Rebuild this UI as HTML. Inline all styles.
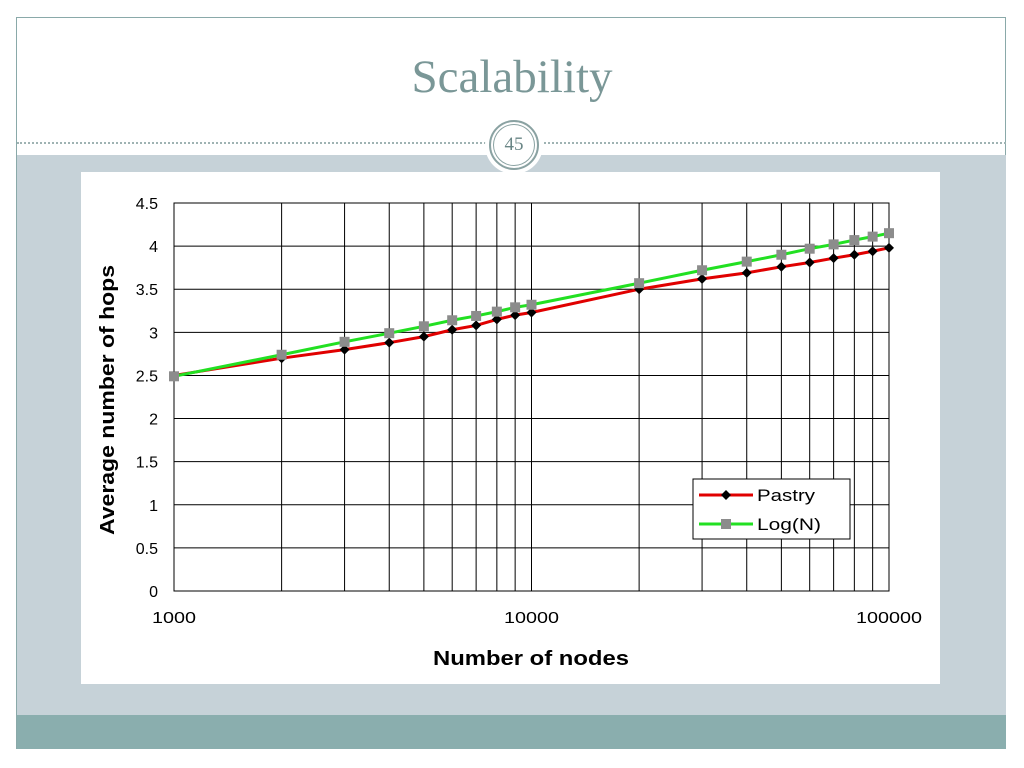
<!DOCTYPE html>
<html><head><meta charset="utf-8"><style>
body{margin:0;width:1024px;height:768px;background:#fff;position:relative;overflow:hidden;font-family:"Liberation Sans",sans-serif}
#frame{position:absolute;left:16px;top:17px;width:990px;height:732px;border:1px solid #8aa9a9;box-sizing:border-box}
#title{position:absolute;left:0;width:1024px;top:50px;text-align:center;font-family:"Liberation Serif",serif;font-size:47px;color:#7a9797}
#dash{position:absolute;left:17px;width:989px;top:142px;border-top:2px dotted #9fb3b3}
#gray{position:absolute;left:17px;top:155px;width:989px;height:560px;background:#c6d2d8}
#band{position:absolute;left:17px;top:715px;width:989px;height:34px;background:#8aaeae}
#circ{position:absolute;left:485px;top:116px;width:58px;height:58px;border-radius:50%;background:#fff}
#circ2{position:absolute;left:489px;top:120px;width:46px;height:46px;border-radius:50%;border:2px solid #8aa2a2;box-shadow:inset 0 0 0 2px #fff,inset 0 0 0 3px #8aa2a2;text-align:center;line-height:46px;font-family:"Liberation Serif",serif;font-size:19px;color:#6a8686}
#chart{position:absolute;left:81px;top:172px;width:859px;height:512px;background:#fff}
</style></head><body>
<div id="frame"></div>
<div id="title">Scalability</div>
<div id="dash"></div>
<div id="gray"></div>
<div id="band"></div>
<div id="circ"></div>
<div id="circ2">45</div>
<svg id="chart" width="859" height="512" viewBox="81 172 859 512"></svg>
<script>
const nodes=[1000,2000,3000,4000,5000,6000,7000,8000,9000,10000,20000,30000,40000,50000,60000,70000,80000,90000,100000];
const pastry=[2.5,2.7,2.8,2.88,2.95,3.03,3.08,3.15,3.2,3.23,3.5,3.62,3.69,3.76,3.81,3.86,3.9,3.94,3.98];
const logN=[2.49,2.74,2.89,2.99,3.07,3.14,3.19,3.24,3.29,3.32,3.57,3.72,3.82,3.9,3.97,4.02,4.07,4.11,4.15];
const yTicks=["0","0.5","1","1.5","2","2.5","3","3.5","4","4.5"];
const xTicks=["1000","10000","100000"];
const NS="http://www.w3.org/2000/svg",svg=document.getElementById('chart');
const X0=174,X1=889,Y0=591,Y1=203;
const xs=v=>X0+(Math.log10(v)-3)/2*(X1-X0);
const ys=v=>Y0-v/4.5*(Y0-Y1);
function mk(t,a,txt){const e=document.createElementNS(NS,t);for(const k in a)e.setAttribute(k,a[k]);if(txt!=null)e.textContent=txt;svg.appendChild(e);return e;}
yTicks.forEach(t=>{const y=ys(+t);
const l=mk('line',{x1:X0,x2:X1,y1:y,y2:y,stroke:'#000','stroke-width':1});


const tx=mk('text',{x:X0-16,y:y+6,'text-anchor':'end','font-size':16},t);

});
nodes.forEach(n=>{const x=xs(n);
const l=mk('line',{x1:x,x2:x,y1:Y1,y2:Y0,stroke:'#000','stroke-width':1});

});
mk('rect',{x:X0,y:Y1,width:X1-X0,height:Y0-Y1,fill:'none',stroke:'#000'});
xTicks.forEach(t=>{const tx=mk('text',{x:xs(+t),y:623,'text-anchor':'middle','font-size':16,textLength:t.length*11,lengthAdjust:'spacingAndGlyphs'},t);

});
let t=mk('text',{x:531,y:665,'text-anchor':'middle','font-size':20,'font-weight':'bold',textLength:196,lengthAdjust:'spacingAndGlyphs'},'Number of nodes');


t=mk('text',{x:0,y:0,'text-anchor':'middle','font-size':20,'font-weight':'bold',textLength:270,lengthAdjust:'spacingAndGlyphs',transform:'translate(114,400) rotate(-90)'},'Average number of hops');


function series(vals,color,marker,name){
const p=mk('polyline',{points:nodes.map((n,i)=>xs(n)+','+ys(vals[i])).join(' '),fill:'none',stroke:color,'stroke-width':3});


nodes.forEach((n,i)=>{const x=xs(n),y=ys(vals[i]);let m;
if(marker==='d')m=mk('polygon',{points:`${x},${y-5} ${x+5},${y} ${x},${y+5} ${x-5},${y}`,fill:'#000'});
else m=mk('rect',{x:x-5,y:y-5,width:10,height:10,fill:'#8c8c8c'});

});}
series(pastry,'#e00000','d','pastry');
series(logN,'#22e022','s','logn');
const lg=mk('rect',{x:693,y:479,width:157,height:60,fill:'#fff',stroke:'#000'});


mk('line',{x1:699,x2:753,y1:495,y2:495,stroke:'#e00000','stroke-width':3});
mk('polygon',{points:'726,490 731,495 726,500 721,495',fill:'#000'});
t=mk('text',{x:757,y:501,'font-size':17,textLength:58,lengthAdjust:'spacingAndGlyphs'},'Pastry');


mk('line',{x1:699,x2:753,y1:524,y2:524,stroke:'#22e022','stroke-width':3});
mk('rect',{x:721,y:519,width:10,height:10,fill:'#8c8c8c'});
t=mk('text',{x:757,y:530,'font-size':17,textLength:64,lengthAdjust:'spacingAndGlyphs'},'Log(N)');


</script>
</body></html>
